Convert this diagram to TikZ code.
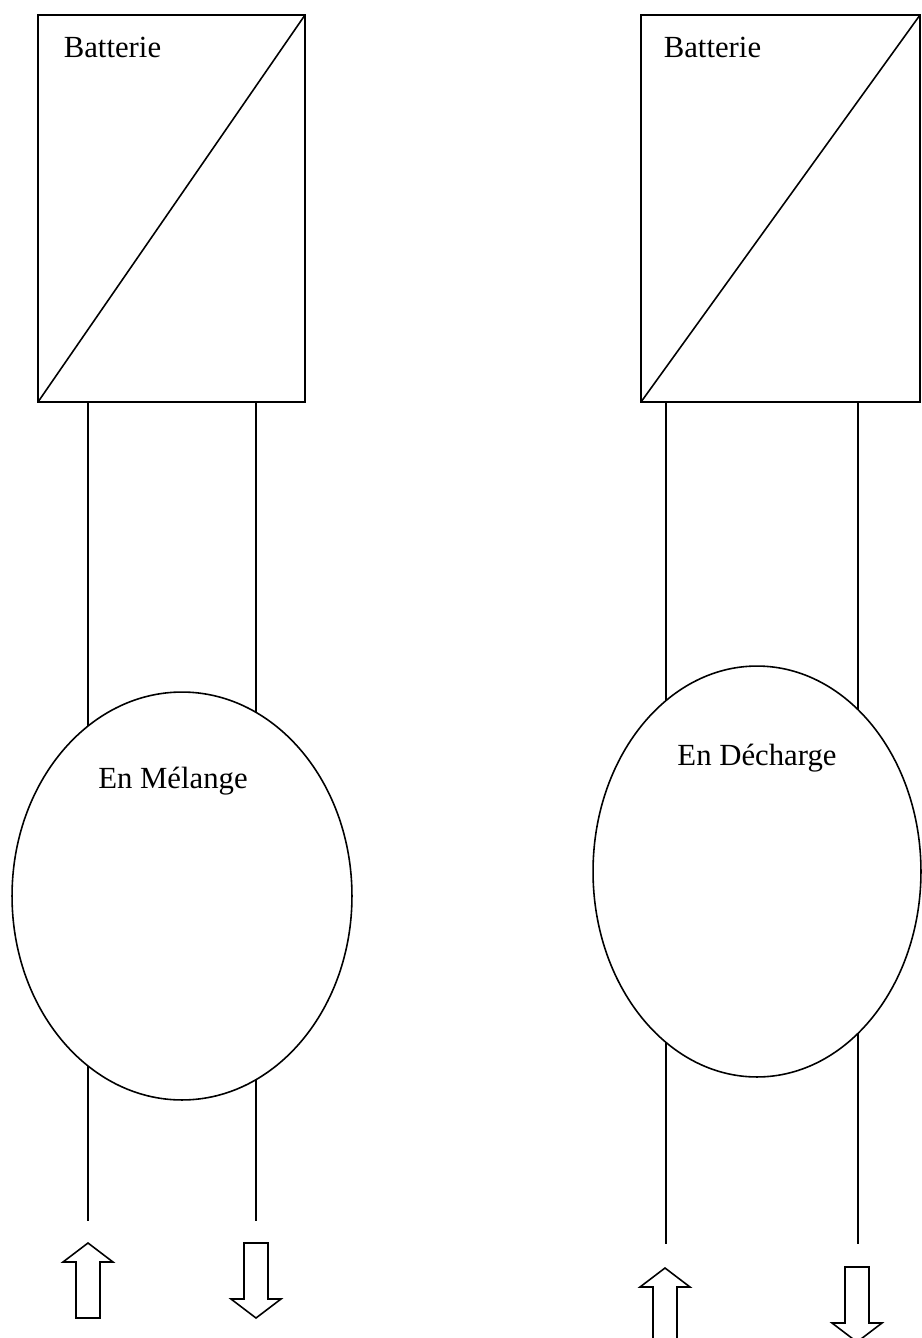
\documentclass[tikz,border=0pt]{standalone}
\usepackage{fontspec}
\setmainfont{Liberation Serif}
\usetikzlibrary{shapes.geometric,positioning}

\tikzset{
    uparr/.pic={\draw (0,0) -- (25,19) -- (12,19) -- (12,75) -- (-12,75) -- (-12,19) -- (-25,19) -- cycle;},
    downarr/.pic={\draw (0,0) -- (25,-19) -- (12,-19) -- (12,-75) -- (-12,-75) -- (-12,-19) -- (-25,-19) -- cycle;}
}

\begin{document}
\begin{tikzpicture}[
    x=0.02cm, y=-0.02cm,
    line width=0.9pt,
    box/.style={draw, rectangle, inner sep=0pt, outer sep=0pt},
    cell/.style={draw, ellipse, inner sep=0pt, outer sep=0pt},
    lbl/.style={font=\fontsize{17.5}{20}\selectfont, inner sep=0pt}
]
\useasboundingbox (0,0) rectangle (921,1338);

% batteries
\node[box, minimum width=5.34cm, minimum height=7.74cm] (bL) at (171.5,208.5) {};
\node[box, minimum width=5.58cm, minimum height=7.74cm] (bR) at (780.5,208.5) {};
\draw (bL.south west) -- (bL.north east);
\draw (bR.south west) -- (bR.north east);
\node[lbl, anchor=base west] (tbL) at ([xshift=0.5cm, yshift=-0.84cm]bL.north west) {Batterie};
\node[lbl, anchor=base west] (tbR) at ([xshift=0.44cm, yshift=-0.84cm]bR.north west) {Batterie};

% modes
\node[cell, minimum width=6.8cm, minimum height=8.16cm] (eL) at (182,896) {};
\node[cell, minimum width=6.56cm, minimum height=8.22cm] (eR) at (757,871.5) {};
\node[lbl, anchor=base] (teL) at ([xshift=-0.18cm, yshift=-1.92cm]eL.north) {En Mélange};
\node[lbl, anchor=base] (teR) at ([yshift=-1.98cm]eR.north) {En Décharge};

% wires
\draw (bL.south -| eL.119) -- (eL.119);
\draw (bL.south -| eL.68) -- (eL.68);
\draw (bR.south -| eR.118) -- (eR.118);
\draw (bR.south -| eR.58) -- (eR.58);

\coordinate (endL) at (0,1221);
\coordinate (endR) at (0,1244);
\draw (eL.241) -- (eL.241 |- endL);
\draw (eL.292) -- (eL.292 |- endL);
\draw (eR.242) -- (eR.242 |- endR);
\draw (eR.302) -- (eR.302 |- endR);

% flows
\pic at (88,1243) {uparr};
\pic at (256,1318) {downarr};
\pic at (665,1268) {uparr};
\pic at (857,1342) {downarr};
\end{tikzpicture}
\end{document}
